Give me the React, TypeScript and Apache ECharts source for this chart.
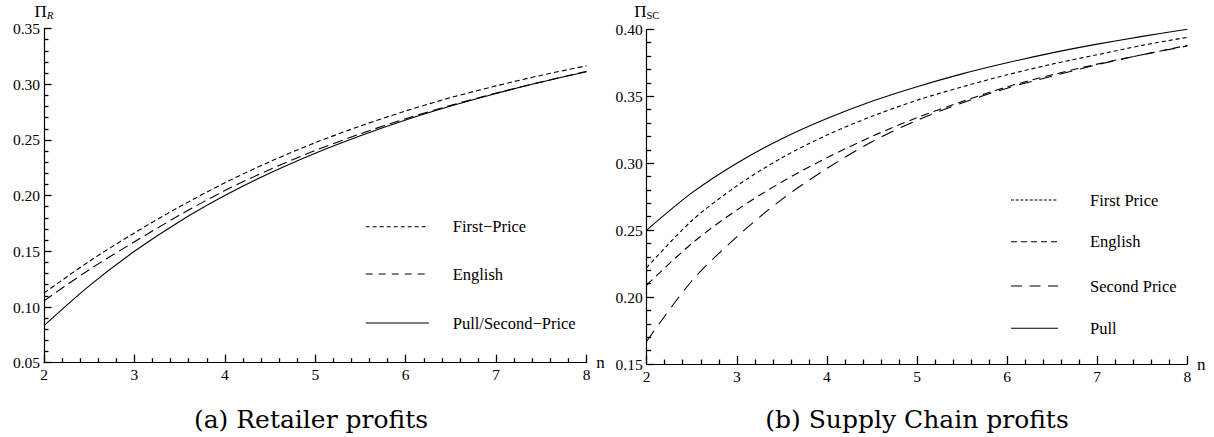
import React, { useEffect, useRef } from "react";
import * as echarts from "echarts";

// number of bidders n
const nValues = [2, 2.5, 3, 3.5, 4, 4.5, 5, 5.5, 6, 6.5, 7, 7.5, 8];

// (a) Retailer profits
const retailerFirstPrice = [0.1125, 0.141, 0.1665, 0.19, 0.2115, 0.2305, 0.2475, 0.2625, 0.276, 0.288, 0.2985, 0.308, 0.3165];
const retailerEnglish = [0.1055, 0.1335, 0.1585, 0.1825, 0.2045, 0.2235, 0.2405, 0.2555, 0.269, 0.281, 0.292, 0.302, 0.3115];
const retailerPull = [0.0833, 0.119, 0.15, 0.1768, 0.2, 0.2203, 0.2381, 0.2538, 0.2679, 0.2804, 0.2917, 0.3019, 0.3111];

// (b) Supply chain profits
const scFirstPrice = [0.222, 0.257, 0.283, 0.304, 0.321, 0.335, 0.347, 0.357, 0.366, 0.374, 0.381, 0.388, 0.394];
const scEnglish = [0.209, 0.24, 0.265, 0.286, 0.304, 0.32, 0.334, 0.346, 0.357, 0.366, 0.374, 0.381, 0.388];
const scSecondPrice = [0.167, 0.212, 0.245, 0.273, 0.296, 0.316, 0.332, 0.345, 0.356, 0.365, 0.3735, 0.381, 0.3875];
const scPull = [0.25, 0.2778, 0.3, 0.3182, 0.3333, 0.3462, 0.3571, 0.3667, 0.375, 0.3824, 0.3889, 0.3947, 0.4];

const leftLegend = ["First\u2212Price", "English", "Pull/Second\u2212Price"];
const rightLegend = ["First Price", "English", "Second Price", "Pull"];
const captions = ["(a) Retailer profits", "(b) Supply Chain profits"];

const SERIF = "Liberation Serif";
const CAPTION_FONT = "DejaVu Serif";

const pairs = (ys: number[]) => nValues.map((n, i) => [n, ys[i]]);

function xAxis(gridIndex: number) {
  return {
    type: "value",
    gridIndex,
    min: 2,
    max: 8,
    interval: 1,
    name: "n",
    nameLocation: "end",
    nameGap: 9,
    nameTextStyle: { fontFamily: SERIF, fontSize: 17, color: "#000" },
    axisLine: { show: true, lineStyle: { color: "#000", width: 1.2 } },
    axisTick: { show: true, inside: true, length: 8, lineStyle: { color: "#000", width: 1.3 } },
    minorTick: { show: true, splitNumber: 5, length: 4.5, lineStyle: { color: "#000", width: 1.3 } },
    splitLine: { show: false },
    axisLabel: { fontFamily: SERIF, fontSize: 15.5, color: "#000", margin: 4 },
  };
}

function yAxis(gridIndex: number, min: number, max: number, name: string) {
  return {
    type: "value",
    gridIndex,
    min,
    max,
    interval: 0.05,
    name,
    nameLocation: "end",
    nameGap: 6,
    nameTextStyle: {
      rich: {
        p: { fontFamily: SERIF, fontSize: 17, color: "#000", lineHeight: 20 },
        r: { fontFamily: SERIF, fontSize: 11, fontStyle: "italic", color: "#000", lineHeight: 20, padding: [8, 0, 0, 0] },
        s: { fontFamily: SERIF, fontSize: 10.5, color: "#000", lineHeight: 20, padding: [8, 0, 0, 0] },
      },
    },
    axisLine: { show: true, lineStyle: { color: "#000", width: 1.2 } },
    axisTick: { show: true, inside: true, length: 7.5, lineStyle: { color: "#000", width: 1.3 } },
    minorTick: { show: true, splitNumber: 5, length: 4.5, lineStyle: { color: "#000", width: 1.3 } },
    splitLine: { show: false },
    axisLabel: {
      fontFamily: SERIF,
      fontSize: 15.5,
      color: "#000",
      margin: 4,
      formatter: (v: number) => v.toFixed(2),
    },
  };
}

function lineSeries(name: string, xi: number, ys: number[], dash: number[] | "solid") {
  return {
    type: "line",
    name,
    xAxisIndex: xi,
    yAxisIndex: xi,
    data: pairs(ys),
    smooth: 0.3,
    showSymbol: false,
    symbol: "none",
    lineStyle: { color: "#000", width: 1.1, type: dash },
    silent: true,
  };
}

function legendItems(
  labels: string[],
  dashes: (number[] | null)[],
  x1: number,
  x2: number,
  tx: number,
  ys: number[]
) {
  const items: any[] = [];
  labels.forEach((label, i) => {
    items.push({
      type: "line",
      shape: { x1, y1: ys[i], x2, y2: ys[i] },
      style: { stroke: "#000", lineWidth: 1.1, lineDash: dashes[i] || undefined },
      silent: true,
    });
    items.push({
      type: "text",
      x: tx,
      y: ys[i],
      style: {
        text: label,
        fontFamily: SERIF,
        fontSize: 16.5,
        fill: "#000",
        align: "left",
        verticalAlign: "middle",
      },
      silent: true,
    });
  });
  return items;
}

export default function App() {
  const ref = useRef<HTMLDivElement>(null);
  useEffect(() => {
    const chart = echarts.init(ref.current!, null, { renderer: "svg" });
    const option: any = {
      animation: false,
      backgroundColor: "#fff",
      grid: [
        { left: 44, top: 28.5, width: 542.5, height: 334.2 },
        { left: 646.7, top: 29.3, width: 540.6, height: 334.7 },
      ],
      xAxis: [xAxis(0), xAxis(1)],
      yAxis: [
        yAxis(0, 0.05, 0.35, "{p|\u03A0}{r|R}"),
        yAxis(1, 0.15, 0.4, "{p|\u03A0}{s|SC}"),
      ],
      series: [
        lineSeries(leftLegend[0], 0, retailerFirstPrice, [5, 3]),
        lineSeries(leftLegend[1], 0, retailerEnglish, [10, 5]),
        lineSeries(leftLegend[2], 0, retailerPull, "solid"),
        lineSeries(rightLegend[0], 1, scFirstPrice, [4, 3]),
        lineSeries(rightLegend[1], 1, scEnglish, [8, 5]),
        lineSeries(rightLegend[2], 1, scSecondPrice, [13, 8]),
        lineSeries(rightLegend[3], 1, scPull, "solid"),
      ],
      graphic: [
        ...legendItems(leftLegend, [[4, 3], [7, 6], null], 365.7, 429, 452.7, [226.7, 274, 323]),
        ...legendItems(rightLegend, [[3, 1.7], [6, 4], [11, 7.5], null], 1011, 1058, 1090, [200, 241.7, 286, 328.3]),
        {
          type: "text",
          x: 311,
          y: 419,
          style: { text: captions[0], fontFamily: CAPTION_FONT, fontSize: 25, fill: "#000", align: "center", verticalAlign: "middle" },
        },
        {
          type: "text",
          x: 917,
          y: 419,
          style: { text: captions[1], fontFamily: CAPTION_FONT, fontSize: 25, fill: "#000", align: "center", verticalAlign: "middle" },
        },
      ],
    };
    chart.setOption(option);
    return () => chart.dispose();
  }, []);
  return (
    <div
      ref={ref}
      style={{ position: "absolute", left: 0, top: 0, width: 1214, height: 437, background: "#fff" }}
    />
  );
}
